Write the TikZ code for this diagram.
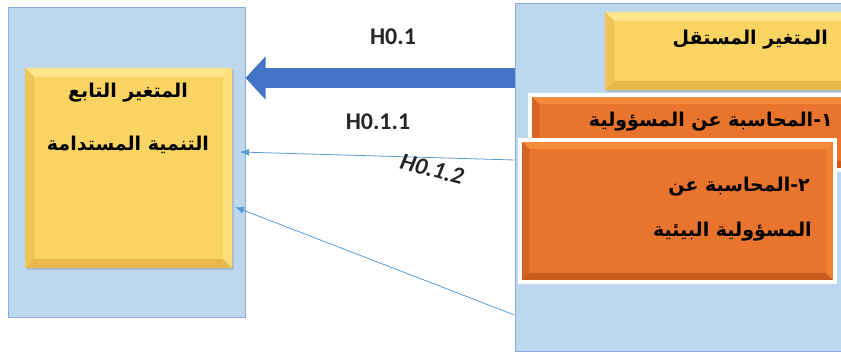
\documentclass[tikz,border=0pt]{standalone}
\usepackage{fontspec}
\setmainfont{Carlito}
\newfontfamily\arabicfont[Script=Arabic]{DejaVu Sans}
\TeXXeTstate=1
\usepackage{xcolor}
\definecolor{panelfill}{HTML}{BDD7EE}
\definecolor{panelborder}{HTML}{8FAADC}
\definecolor{yellowfill}{HTML}{F9D462}
\definecolor{yellowlight}{HTML}{FFE58C}
\definecolor{yellowdark}{HTML}{E6B94A}
\definecolor{orangefill}{HTML}{E8742E}
\definecolor{orangelight}{HTML}{F48A3A}
\definecolor{orangedark}{HTML}{C95B1E}
\definecolor{arrowblue}{HTML}{4472C4}
\definecolor{linkblue}{HTML}{5B9BD5}
\usetikzlibrary{positioning,arrows.meta,shadows}
\tikzset{
    panel/.style={
        rectangle,
        draw=panelborder,
        fill=panelfill,
        line width=1pt,
    },
    bevel/.style n args={3}{
        path picture={
            \fill[#2] (path picture bounding box.north west) -- (path picture bounding box.north east)
                -- ([shift={(-9pt,-9pt)}]path picture bounding box.north east)
                -- ([shift={(9pt,-9pt)}]path picture bounding box.north west) -- cycle;
            \fill[#3] (path picture bounding box.south west) -- (path picture bounding box.south east)
                -- ([shift={(-9pt,9pt)}]path picture bounding box.south east)
                -- ([shift={(9pt,9pt)}]path picture bounding box.south west) -- cycle;
            \fill[#3!60!#1] (path picture bounding box.north west) -- (path picture bounding box.south west)
                -- ([shift={(9pt,9pt)}]path picture bounding box.south west)
                -- ([shift={(9pt,-9pt)}]path picture bounding box.north west) -- cycle;
            \fill[#2!60!#1] (path picture bounding box.north east) -- (path picture bounding box.south east)
                -- ([shift={(-9pt,9pt)}]path picture bounding box.south east)
                -- ([shift={(-9pt,-9pt)}]path picture bounding box.north east) -- cycle;
        },
    },
    varbox/.style={
        rectangle,
        fill=yellowfill,
        bevel={yellowfill}{yellowlight}{yellowdark},
        drop shadow={opacity=0.3,shadow xshift=2pt,shadow yshift=-2pt},
    },
    accbox/.style={
        rectangle,
        fill=orangefill,
        draw=white,
        line width=4pt,
        bevel={orangefill}{orangelight}{orangedark},
        drop shadow={opacity=0.25,shadow xshift=1pt,shadow yshift=-2pt},
    },
    artext/.style={
        font=\arabicfont\bfseries\fontsize{19}{21}\selectfont,
        text=black,
        inner sep=0pt,
    },
    hyplabel/.style={
        font=\bfseries\fontsize{24}{27}\selectfont,
        text=black!85,
        inner sep=0pt,
    },
    bigarrow/.style={
        -{Triangle[length=20pt,width=42pt]},
        line width=20pt,
        arrowblue,
    },
    link/.style={
        -{Latex[length=9pt,width=7pt]},
        line width=0.8pt,
        linkblue,
    },
}

\begin{document}
\begin{tikzpicture}[x=1pt,y=1pt]
    \useasboundingbox (0,0) rectangle (841,355);
    % dependent side
    \node[panel, minimum width=237pt, minimum height=310pt] (leftpanel) at (126.5,192) {};
    \node[varbox, minimum width=207pt, minimum height=200pt] (depbox) at (128.5,187) {};
    \node[artext] (deptitle) at (128,262) {\beginR المتغير التابع\endR};
    \node[artext] (depname) at (128,210) {\beginR التنمية المستدامة\endR};

    % independent side
    \node[panel, minimum width=330pt, minimum height=348pt] (rightpanel) at (680,177) {};
    \node[varbox, minimum width=245pt, minimum height=78pt] (indepbox) at (727.5,304) {};
    \node[artext, anchor=east] (indeptitle) at (828,315) {\beginR المتغير المستقل\endR};
    \node[accbox, minimum width=320pt, minimum height=75pt] (accone) at (690,222.5) {};
    \node[artext, anchor=east] (acconetext) at (833,233) {\beginR ١-المحاسبة عن المسؤولية\endR};
    \node[accbox, minimum width=315pt, minimum height=142pt] (acctwo) at (677.5,144) {};
    \node[artext, anchor=east] (acctwotop) at (810,168) {\beginR ٢-المحاسبة عن\endR};
    \node[artext, anchor=east] (acctwobot) at (812,123) {\beginR المسؤولية البيئية\endR};

    % hypotheses
    \coordinate (hzerostart) at (rightpanel.west |- 0,277);
    \coordinate (hzeroend) at (leftpanel.east |- 0,277);
    \coordinate (honestart) at (rightpanel.west |- 0,195);
    \coordinate (honeend) at (240,203);
    \coordinate (htwostart) at (rightpanel.west |- 0,40);
    \coordinate (htwoend) at (235,148);
    \draw[bigarrow] (hzerostart) -- (hzeroend);
    \draw[link] (honestart) -- (honeend);
    \draw[link] (htwostart) -- (htwoend);
    \node[hyplabel] (hzero) at (393,318) {H0.1};
    \node[hyplabel] (hone) at (378,233) {H0.1.1};
    \node[hyplabel, font=\bfseries\itshape\fontsize{24}{27}\selectfont, rotate=-15] (htwo) at (432,186) {H0.1.2};
\end{tikzpicture}
\end{document}
